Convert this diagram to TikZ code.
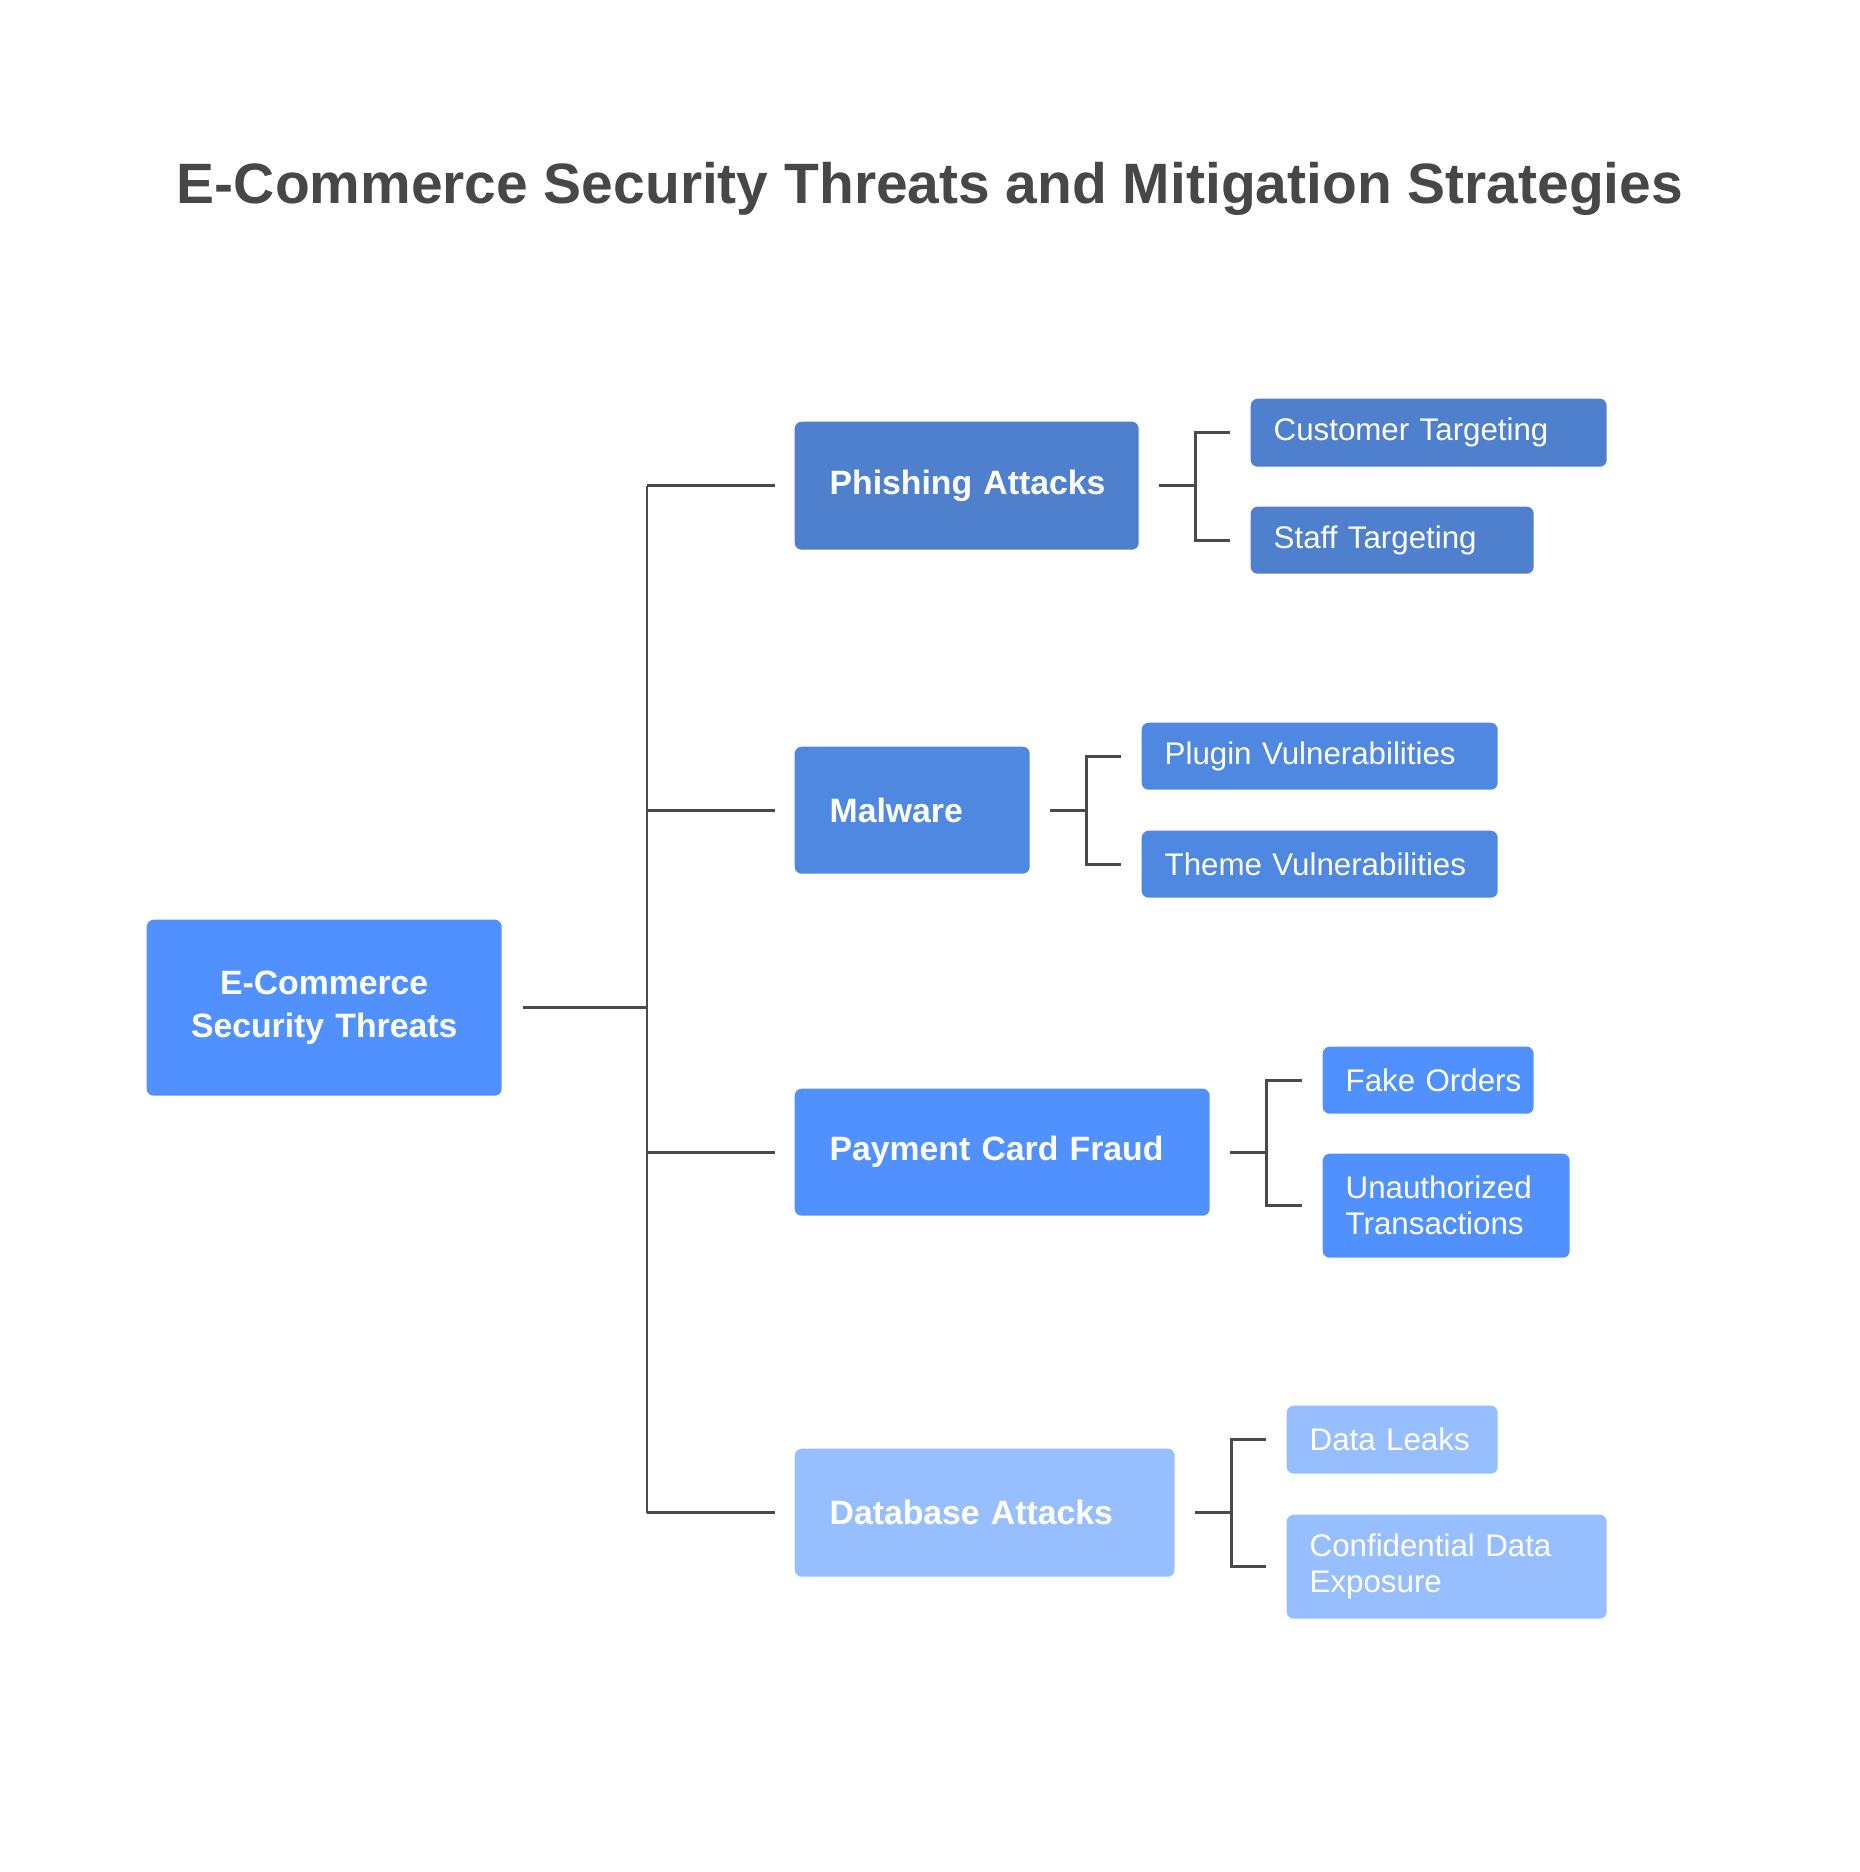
\documentclass[tikz,border=0pt]{standalone}
\usepackage{fontspec}
\setmainfont{Liberation Sans}
\usepackage{xcolor}
\definecolor{titlegray}{HTML}{474747}
\definecolor{linegray}{HTML}{4A4A4A}
\definecolor{brightblue}{HTML}{5091FF}
\definecolor{phishblue}{HTML}{4F80CD}
\definecolor{malblue}{HTML}{4F88E0}
\definecolor{paleblue}{HTML}{97BEFF}

\begin{document}
\begin{tikzpicture}[
 box/.style={anchor=north west, rounded corners=0.7mm, text=white, align=left, inner ysep=0pt},
 mainbox/.style={box, inner xsep=0.35cm, font=\fontsize{9.6}{12}\selectfont\bfseries},
 subbox/.style={box, inner xsep=0.23cm, font=\fontsize{8.9}{10.2}\selectfont},
 conn/.style={draw=linegray, line width=0.85pt}]
\fill[white] (0,0) rectangle (18.6,-18.72);
\useasboundingbox (0,0) rectangle (18.6,-18.72);
\node[font=\fontsize{16.2}{19}\selectfont\bfseries, text=titlegray, anchor=base] at (9.30,-2.03) (title) {E-Commerce Security Threats and Mitigation Strategies};
% root and threats
\node[mainbox, fill=brightblue, align=center, text width=2.85cm, minimum height=1.76cm] at (1.46,-9.19) (root) {E-Commerce\\Security Threats};
\node[mainbox, fill=phishblue, text width=2.74cm, minimum height=1.28cm] at (7.94,-4.21) (phish) {\mbox{Phishing Attacks}};
\node[mainbox, fill=malblue, text width=1.65cm, minimum height=1.27cm] at (7.94,-7.46) (malw) {Malware};
\node[mainbox, fill=brightblue, text width=3.45cm, minimum height=1.27cm] at (7.94,-10.88) (pay) {\mbox{Payment Card Fraud}};
\node[mainbox, fill=paleblue, text width=3.10cm, minimum height=1.28cm] at (7.94,-14.48) (db) {\mbox{Database Attacks}};
% details
\node[subbox, fill=phishblue, text width=3.10cm, minimum height=0.68cm] at (12.50,-3.98) (cust) {\mbox{Customer Targeting}};
\node[subbox, fill=phishblue, text width=2.37cm, minimum height=0.67cm] at (12.50,-5.06) (staff) {\mbox{Staff Targeting}};
\node[subbox, fill=malblue, text width=3.10cm, minimum height=0.67cm] at (11.41,-7.22) (plugin) {\mbox{Plugin Vulnerabilities}};
\node[subbox, fill=malblue, text width=3.10cm, minimum height=0.67cm] at (11.41,-8.30) (theme) {\mbox{Theme Vulnerabilities}};
\node[subbox, fill=brightblue, text width=1.65cm, minimum height=0.67cm] at (13.22,-10.46) (fake) {\mbox{Fake Orders}};
\node[subbox, fill=brightblue, text width=2.01cm, minimum height=1.04cm] at (13.22,-11.53) (unauth) {Unauthorized\\Transactions};
\node[subbox, fill=paleblue, text width=1.65cm, minimum height=0.68cm] at (12.86,-14.05) (leaks) {\mbox{Data Leaks}};
\node[subbox, fill=paleblue, text width=2.74cm, minimum height=1.04cm] at (12.86,-15.14) (conf) {Confidential Data\\Exposure};
% connectors
\coordinate (spine) at (6.47,0);
\draw[conn] ([xshift=2.1mm]root.east) -- (spine |- root.east);
\draw[conn] (spine |- phish.west) -- (spine |- db.west);
\foreach \n in {phish,malw,pay,db}{
\draw[conn] (spine |- \n.west) -- ([xshift=-1.9mm]\n.west);
}
\foreach \p/\a/\b in {phish/cust/staff,malw/plugin/theme,pay/fake/unauth,db/leaks/conf}{
\draw[conn] ([xshift=2mm]\p.east) -- ++(0.36,0) coordinate (elbow);
\draw[conn] ([xshift=-2mm]\a.west) -| (elbow) |- ([xshift=-2mm]\b.west);
}
\end{tikzpicture}
\end{document}
